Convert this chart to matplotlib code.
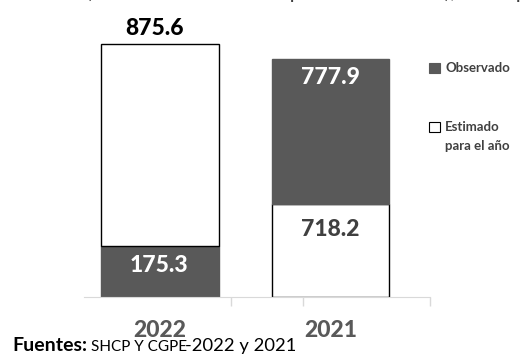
import matplotlib
matplotlib.use("Agg")
import matplotlib.pyplot as plt
from matplotlib.patches import Rectangle

plt.rcParams['font.family'] = ['Lato', 'DejaVu Sans']

# data
years = ['2022', '2021']
# segment heights as drawn (bottom segment, top segment)
bottom_seg = [175.3, 323.0]
top_seg = [700.3, 501.0]
bottom_is_obs = [True, False]
# printed values
label_bottom = ['175.3', '718.2']
label_top = ['875.6', '777.9']

DARK = '#595959'
TXT = '#404040'
W, H = 522, 364

fig = plt.figure(figsize=(W / 100, H / 100), dpi=100)
ax = fig.add_axes([84 / W, (H - 297) / H, (430 - 84) / W, 289.4 / H])

x = range(len(years))
for i in x:
    c_bot = DARK if bottom_is_obs[i] else 'white'
    c_top = 'white' if bottom_is_obs[i] else DARK
    ax.bar(i, bottom_seg[i], width=0.69, color=c_bot,
           edgecolor='black' if c_bot == 'white' else DARK, linewidth=1)
    ax.bar(i, top_seg[i], width=0.69, bottom=bottom_seg[i], color=c_top,
           edgecolor='black' if c_top == 'white' else DARK, linewidth=1)

# value labels
fs = 16.5
fw = 'black'
ax.annotate(label_bottom[0], (0, bottom_seg[0]), xytext=(-1, -14), textcoords='offset points',
            ha='center', va='center', color='white', fontsize=fs, fontweight=fw)
ax.annotate(label_top[0], (0, bottom_seg[0] + top_seg[0]), xytext=(-4, 11), textcoords='offset points',
            ha='center', va='center', color='black', fontsize=fs, fontweight=fw)
ax.annotate(label_bottom[1], (1, bottom_seg[1]), xytext=(0, -19), textcoords='offset points',
            ha='center', va='center', color=TXT, fontsize=fs, fontweight=fw)
ax.annotate(label_top[1], (1, bottom_seg[1] + top_seg[1]), xytext=(0, -14), textcoords='offset points',
            ha='center', va='center', color='white', fontsize=fs, fontweight=fw)

ax.set_xlim(-0.446, 1.584)
ax.set_ylim(0, 1000)
ax.set_xticks(list(x))
ax.set_xticklabels(years, fontsize=16.5, fontweight=fw, color=DARK)
ax.tick_params(axis='x', which='major', length=0, pad=16.5)
ax.set_xticks([0.416, 0.839, 1.584], minor=True)
ax.tick_params(axis='x', which='minor', length=6.5, color='#d9d9d9', width=1)
ax.set_yticks([])
for s in ['top', 'right', 'left']:
    ax.spines[s].set_visible(False)
ax.spines['bottom'].set_color('#d9d9d9')

# legend
fig.add_artist(Rectangle((429 / W, 1 - 73 / H), 11 / W, 10 / H, transform=fig.transFigure,
                         facecolor=DARK, edgecolor=DARK, linewidth=0.8))
fig.text(445 / W, 1 - 68 / H, 'Observado', fontsize=9.5, fontweight='bold', color=TXT, va='center')
fig.add_artist(Rectangle((429 / W, 1 - 132 / H), 11 / W, 10 / H, transform=fig.transFigure,
                         facecolor='white', edgecolor='black', linewidth=0.8))
fig.text(445 / W, 1 - 127 / H, 'Estimado', fontsize=9.5, fontweight='bold', color=TXT, va='center')
fig.text(445 / W, 1 - 146 / H, 'para el año', fontsize=9.5, fontweight='bold', color=TXT, va='center')

# title, cut off at the top
fig.text(86 / W, 1 + 2 / H, '(Miles de millones de pesos corrientes), 2022 p)', fontsize=15.5,
         color=TXT, va='baseline', ha='left')

# source
fig.text(12 / W, 1 - 351 / H, 'Fuentes:', fontsize=14, fontweight='bold', color='black', va='baseline')
fig.text(91 / W, 1 - 351 / H, 'SHCP Y CGPE', fontsize=11, color='black', va='baseline')
fig.text(185 / W, 1 - 351 / H, '-2022 y 2021', fontsize=13.2, color='black', va='baseline')

fig.savefig('out.png', dpi=100)
